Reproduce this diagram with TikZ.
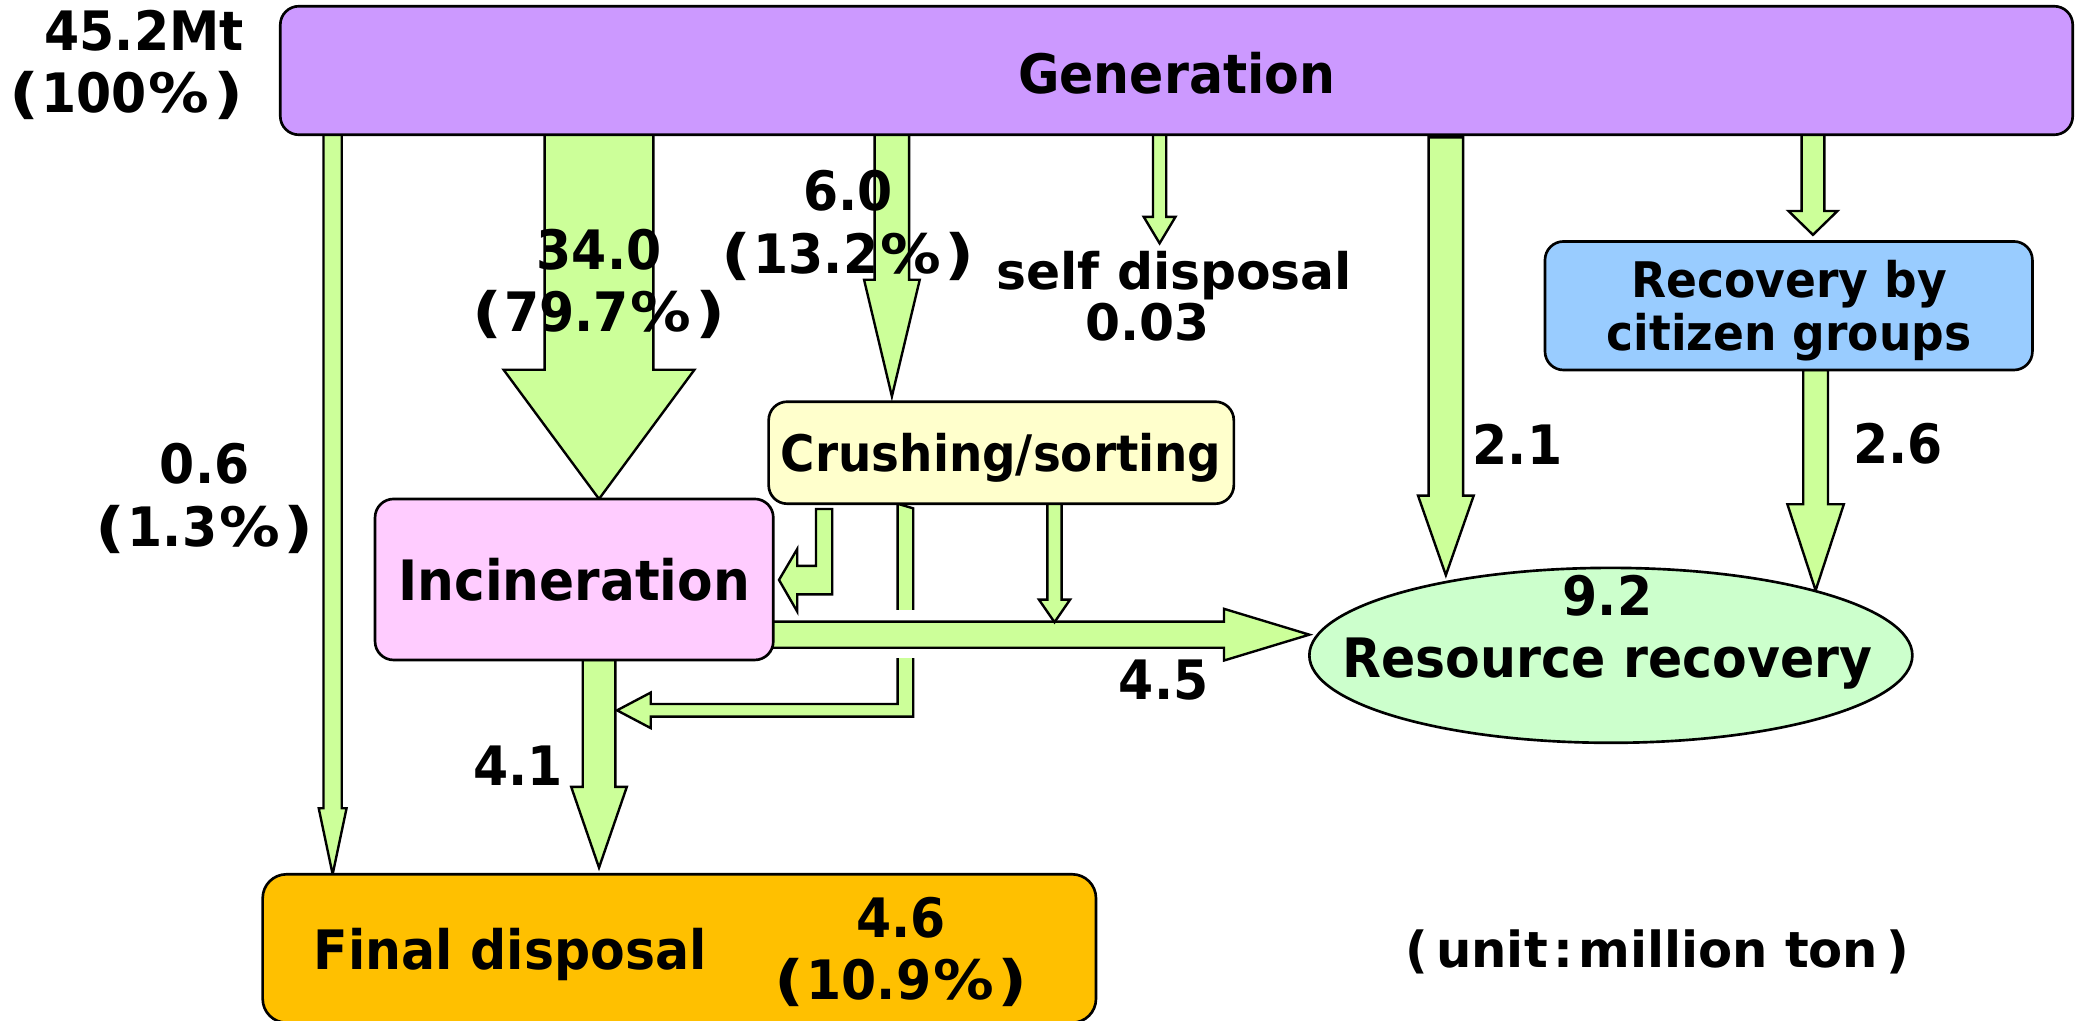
\documentclass[tikz,border=0pt]{standalone}
\usepackage{fontspec}
\usetikzlibrary{calc,backgrounds,shapes.geometric}
\newfontfamily\fc{DejaVu Sans}[FakeStretch=0.93]
\newfontfamily\fn{DejaVu Sans}
\definecolor{genc}{HTML}{CC99FF}
\definecolor{recc}{HTML}{99CCFF}
\definecolor{crushc}{HTML}{FFFFCC}
\definecolor{incc}{HTML}{FFCCFF}
\definecolor{resc}{HTML}{CCFFCC}
\definecolor{finc}{HTML}{FFC000}
\definecolor{flowgreen}{HTML}{CCFF99}
\newcommand\lp{\scalebox{1.3}[1]{(}\kern1.5pt}
\newcommand\rp{\kern1.5pt\scalebox{1.3}[1]{)}}
\newcommand\pc{\kern1.5pt\scalebox{1.2}[1]{\%}\kern1.5pt}
% vertical block arrow: start, tip, shaft half width, head half width, head length
\newcommand\vflow[5]{%
  \path[flowst] let \p1=#1, \p2=#2 in
    (\x1-#3,\y1) -- (\x1+#3,\y1) -- (\x1+#3,\y2+#5) -- (\x1+#4,\y2+#5) --
    (\x1,\y2) -- (\x1-#4,\y2+#5) -- (\x1-#3,\y2+#5) -- cycle;}
% horizontal block arrow (to the right)
\newcommand\hflow[5]{%
  \path[flowst] let \p1=#1, \p2=#2 in
    (\x1,\y1+#3) -- (\x2-#5,\y1+#3) -- (\x2-#5,\y1+#4) -- (\x2,\y1) --
    (\x2-#5,\y1-#4) -- (\x2-#5,\y1-#3) -- (\x1,\y1-#3) -- cycle;}
\begin{document}
\begin{tikzpicture}[x=1pt,y=-1pt,
  box/.style={draw=black,line width=2pt,rounded corners=14pt,inner sep=0pt,outer sep=0pt},
  flowst/.style={fill=flowgreen,draw=black,line width=1.8pt,line join=miter,miter limit=20},
  txt/.style={font=\fc\bfseries\fontsize{41}{47}\selectfont,align=center,inner sep=0pt}]
\useasboundingbox (0,0) rectangle (1568,770);

% boxes
\node[box,fill=genc,minimum width=1352.5pt,minimum height=97pt] (gen) at (887.75,53.2) {};
\node[box,fill=recc,minimum width=367.8pt,minimum height=97pt] (rec) at (1349.7,230.7) {};
\node[box,fill=crushc,minimum width=351pt,minimum height=77pt] (crush) at (755.5,341.6) {};
\node[box,fill=incc,minimum width=300.5pt,minimum height=121.5pt] (inc) at (433.25,437.25) {};
\node[draw=black,ellipse,line width=2pt,fill=resc,minimum width=455pt,minimum height=132pt,
      inner sep=0pt,outer sep=0pt] (res) at (1215.5,494.5) {};
\node[box,rounded corners=18pt,fill=finc,minimum width=628.8pt,minimum height=112pt] (fin) at (512.6,715.7) {};

% helper coordinates
\coordinate (xA) at (251,0);
\coordinate (xB) at (452,0);
\coordinate (xC) at (673,0);
\coordinate (xD) at (875,0);
\coordinate (xE) at (1091,0);
\coordinate (xF) at (1368,0);
\coordinate (xG) at (1370,0);
\coordinate (xH) at (452,0);
\coordinate (xI1) at (615.7,0);
\coordinate (xI2) at (628,0);
\coordinate (xJ) at (677.3,0);
\coordinate (xK) at (795.7,0);
\coordinate (y45) at (0,478.9);
\coordinate (dTip) at (875,183.6);
\coordinate (eTip) at (1091,434);
\coordinate (gTip) at (1370,445.5);
\coordinate (kTip) at (795.7,469.5);

\begin{pgfonlayer}{background}
  \fill[white] (0,0) rectangle (1568,770);
  \vflow{(xA |- gen.south)}{(xA |- fin.north)}{6.9pt}{10.5pt}{49.8pt}
  \vflow{(xB |- gen.south)}{(xB |- inc.north)}{41pt}{72pt}{97.5pt}
  \vflow{(xC |- gen.south)}{($(xC |- crush.north)+(0,-4)$)}{13pt}{21pt}{88pt}
  \vflow{(xD |- gen.south)}{(dTip)}{5pt}{12pt}{20pt}
  \vflow{($(xE |- gen.south)+(0,2)$)}{(eTip)}{13pt}{21pt}{60pt}
  \vflow{(xF |- gen.south)}{($(xF |- rec.north)+(0,-5)$)}{8.6pt}{18.5pt}{18pt}
  \vflow{(xG |- rec.south)}{(gTip)}{9.3pt}{21.3pt}{65pt}
  \vflow{(xH |- inc.south)}{($(xH |- fin.north)+(0,-5)$)}{12.3pt}{21pt}{61pt}
  % crushing -> incineration (bent)
  \path[flowst] ($(xI1 |- crush.south)+(0,4)$) -- ($(xI2 |- crush.south)+(0,4)$) -- (628,448.5) -- (601.6,448.5) --
    (601.6,461.5) -- (587.8,437.6) -- (601.6,414.2) -- (601.6,427) -- (615.7,427) -- cycle;
  % crushing -> final disposal stream (bent, joins 4.1)
  \path[flowst] (xJ |- crush.south) -- (689.1,383.6) -- (689.1,540.7) -- (491,540.7) --
    (491,549.4) -- (465.6,536) -- (491,522.6) -- (491,531.2) -- (677.3,531.2) -- cycle;
  \fill[white] (674,460.3) rectangle (693,496.7);
  % incineration -> resource recovery
  \hflow{($(inc.east |- y45)+(-12,0)$)}{(res.west |- y45)}{9.85pt}{19.5pt}{64.4pt}
  % crushing -> resource recovery stream
  \vflow{(xK |- crush.south)}{(kTip)}{5.4pt}{11.7pt}{17pt}
\end{pgfonlayer}

% texts
\node[txt] (gentxt) at (888,55.2) {Generation};
\node[txt,font=\fc\bfseries\fontsize{37}{40}\selectfont] (rectxt) at (1350,234.7) {Recovery by\\citizen groups};
\node[txt,font=\fc\bfseries\fontsize{38}{44}\selectfont] (crushtxt) at (755.5,345.6) {Crushing/sorting};
\node[txt,font=\fc\bfseries\fontsize{42}{48}\selectfont] (inctxt) at (433.25,437.25) {Incineration};
\node[txt] (restxt) at (1213,477) {\fontsize{41}{42}\selectfont 9.2\\Resource recovery};
\node[txt] (fintxt) at (385,720) {Final disposal};
\node[txt] (finnum) at (680,718.5) {4.6\\\lp10.9\pc\rp};
\node[txt,align=right,anchor=east] (total) at (184,49) {45.2Mt\\\lp100\pc\rp};
\node[txt] (l34) at (452,214) {34.0\\\lp79.7\pc\rp};
\node[txt] (l6) at (640,170) {6.0\\\lp13.2\pc\rp};
\node[font=\fn\bfseries\fontsize{38}{38}\selectfont,inner sep=0pt] (lself) at (886,208) {self disposal};
\node[font=\fn\bfseries\fontsize{38}{38}\selectfont,inner sep=0pt] (lself2) at (866,243) {0.03};
\node[txt] (l06) at (154.5,376) {0.6\\\lp1.3\pc\rp};
\node[txt] (l21) at (1145,335) {2.1};
\node[txt] (l26) at (1432,335) {2.6};
\node[txt] (l45) at (878,513) {4.5};
\node[txt] (l41) at (391,578) {4.1};
\node[font=\fn\bfseries\fontsize{37.5}{38}\selectfont,inner sep=0pt] (unit) at (1250.5,718)
  {(\kern6pt unit\kern4pt:\kern4pt million ton\kern6pt)};
\end{tikzpicture}
\end{document}
